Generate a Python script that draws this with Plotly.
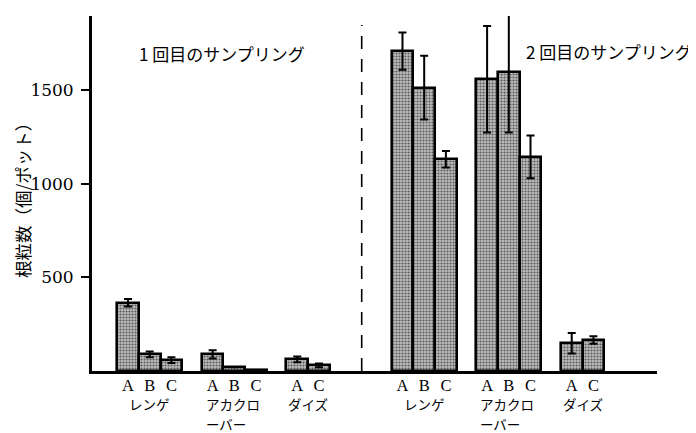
import plotly.graph_objects as go

# ---- data ----
sessions = ["1 回目のサンプリング", "2 回目のサンプリング"]
crops = [["レンゲ"], ["アカクロ", "ーバー"], ["ダイズ"]]
treatments = [["A", "B", "C"], ["A", "B", "C"], ["A", "C"]]

# values [session][crop][treatment]
values_s1 = [[365, 89, 58], [89, 20, 5], [62, 30]]
errors_s1 = [[20, 15, 15], [22, 0, 0], [15, 10]]
values_s2 = [[1710, 1515, 1132], [1560, 1600, 1145], [148, 166]]
errors_s2 = [[100, 170, 44], [285, 325, 114], [55, 20]]
values = [values_s1, values_s2]
errors = [errors_s1, errors_s2]

ytickvals = [500, 1000, 1500]
ytitle = "根粒数（個/ポット）"

SERIF = "'DejaVu Serif', serif"
SERIF2 = "'Liberation Serif', serif"
CJK = "Noto Sans CJK JP"

# ---- layout helpers ----
session_offset = 12.65
group_offset = 3.9

xs, ys, es, tv, tt = [], [], [], [], []
crop_centers = []
for s in range(2):
    for g in range(3):
        base = s * session_offset + g * group_offset
        pos = [base + k for k in range(len(treatments[g]))]
        for k, p in enumerate(pos):
            xs.append(p)
            ys.append(values[s][g][k])
            es.append(errors[s][g][k])
            tv.append(p)
            tt.append(treatments[g][k])
        crop_centers.append((sum(pos) / len(pos), crops[g]))

fig = go.Figure()
fig.add_trace(go.Bar(
    x=xs, y=ys, width=1.0,
    marker=dict(color="#a8a8a8",
                line=dict(color="black", width=2.6),
                pattern=dict(shape=".", bgcolor="#bdbdbd", fgcolor="#5a5a5a",
                             size=3, solidity=0.4, fillmode="replace")),
    error_y=dict(type="data", array=es, visible=True, color="black",
                 thickness=2, width=4),
    showlegend=False,
))

# dashed separator between sessions
sep_x = session_offset - 1.88
fig.add_shape(type="line", x0=sep_x, x1=sep_x, y0=0, y1=1850,
              xref="x", yref="y",
              line=dict(color="black", width=1.6, dash="13px,10px"))

annotations = []
# session labels
for s, (xc, yc) in enumerate([(4.35, 1700), (22.17, 1706)]):
    annotations.append(dict(x=xc, y=yc, xref="x", yref="y", text=sessions[s],
                            showarrow=False,
                            font=dict(family=CJK, size=17, color="black")))
# crop labels
line_y = [-0.0930, -0.1479]
for xc, lines in crop_centers:
    for i, txt in enumerate(lines):
        if len(lines) == 1:
            a = dict(x=xc, xanchor="center")
        else:
            a = dict(x=xc - 1.42, xanchor="left")
        a.update(y=line_y[i], xref="x", yref="paper", text=txt, showarrow=False,
                 yanchor="middle", font=dict(family=CJK, size=13.5, color="black"))
        annotations.append(a)
# y title
annotations.append(dict(x=-0.122, y=0.493, xref="paper", yref="paper",
                        xanchor="center", yanchor="middle",
                        text=ytitle, textangle=-90, showarrow=False,
                        font=dict(family=CJK, size=17.5, color="black")))

# the page puts the figure 8px from its top-left corner
fig.update_layout(
    width=688, height=425,
    margin=dict(l=84, r=39, t=8, b=62),
    paper_bgcolor="white", plot_bgcolor="white",
    annotations=annotations,
    bargap=0,
    xaxis=dict(range=[-1.66, 24.38], tickvals=tv, ticktext=tt,
               showgrid=False, zeroline=False, showline=True,
               linecolor="black", linewidth=2.5, ticks="",
               ticklabelstandoff=-3,
               tickfont=dict(family=SERIF2, size=16.5, color="black")),
    yaxis=dict(range=[0, 1898], tickvals=ytickvals,
               showgrid=False, zeroline=False, showline=True,
               linecolor="black", linewidth=2.8, ticks="outside",
               ticklen=8, tickwidth=2, tickcolor="black",
               ticklabelstandoff=4,
               tickfont=dict(family=SERIF, size=17, color="black")),
)

fig.write_html("out.html")
